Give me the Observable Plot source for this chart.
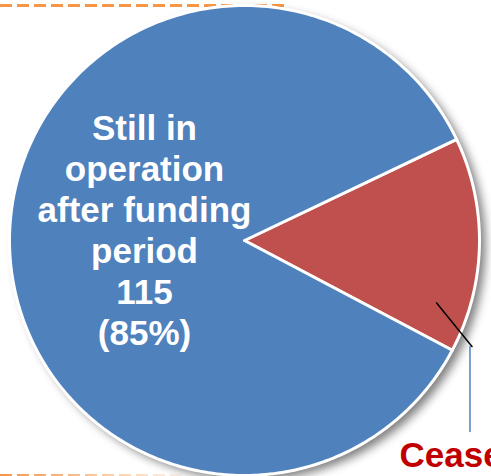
<!DOCTYPE html>
<html>
<head>
<meta charset="utf-8">
<script src="https://cdn.jsdelivr.net/npm/d3@7"></script>
<script src="https://cdn.jsdelivr.net/npm/@observablehq/plot@0.6"></script>
<style>
  html, body { margin: 0; padding: 0; background: #fff; overflow: hidden; }
  #chart svg { display: block; }
</style>
</head>
<body>
<div id="chart"></div>
<script>
// ---- data ----
const categories = ["Ceased", "Still in operation after funding period"];
const counts = [20, 115];
const percents = [15, 85];
const sliceColors = ["#C0504D", "#4F81BD"];
const labelLines = [
  ["Ceased"],
  ["Still in", "operation", "after funding", "period", "115", "(85%)"]
];

// ---- layout ----
const W = 491, H = 476;
const cx = 244, cy = 240, R = 235;
const startDeg = 64.5;
const rad = d => d * Math.PI / 180;

const pie = d3.pie().sort(null).value(d => d.count)
  .startAngle(rad(startDeg)).endAngle(rad(startDeg) + 2 * Math.PI);
const rows = categories.map((c, i) => ({name: c, count: counts[i], pct: percents[i], color: sliceColors[i]}));
const arcs = pie(rows);

const polar = (a, r) => [cx + r * Math.sin(a), cy - r * Math.cos(a)];

function slicePoints(a) {
  const pts = [];
  const n = Math.max(8, Math.ceil((a.endAngle - a.startAngle) / rad(1)));
  pts.push({x: cx, y: cy});
  for (let k = 0; k <= n; k++) {
    const t = a.startAngle + (a.endAngle - a.startAngle) * k / n;
    const [x, y] = polar(t, R);
    pts.push({x, y});
  }
  pts.push({x: cx, y: cy});
  return pts;
}

// leader for the Ceased slice
const leadA = polar(rad(108), 202);
const leadB = polar(rad(115), 251);
const leader1 = [{x: leadA[0], y: leadA[1]}, {x: leadB[0], y: leadB[1]}];
const leader2 = [{x: leadB[0] - 2, y: leadB[1]}, {x: leadB[0] - 2, y: leadB[1] + 85}];

const bigLabel = [{x: 144, y: 229, text: labelLines[1].join("\n")}];
const smallLabel = [{x: 399, y: 466, text: labelLines[0].join("\n")}];
const shadowPos = [{x: cx + 6, y: cy + 5}];

const chart = Plot.plot({
  width: W,
  height: H,
  margin: 0,
  x: {domain: [0, W], range: [0, W], axis: null},
  y: {domain: [0, H], range: [0, H], axis: null},
  r: {type: "identity"},
  style: {background: "#fff"},
  marks: [
    Plot.ruleY([5], {x1: 0, x2: 287, stroke: "#F79646", strokeWidth: 3, strokeDasharray: "12 5"}),
    Plot.ruleY([475], {x1: 0, x2: 185, stroke: "url(#fadeOrange)", strokeWidth: 3, strokeDasharray: "12 5"}),
    Plot.dot(shadowPos, {x: "x", y: "y", r: R, fill: "#000", fillOpacity: 0.5, stroke: "none"}),
    ...arcs.map(a => Plot.line(slicePoints(a), {x: "x", y: "y", fill: a.data.color, stroke: "white", strokeWidth: 3, strokeLinejoin: "round"})),
    Plot.line(leader1, {x: "x", y: "y", stroke: "black", strokeWidth: 1.5}),
    Plot.line(leader2, {x: "x", y: "y", stroke: "#4F81BD", strokeWidth: 1.5}),
    Plot.text(bigLabel, {x: "x", y: "y", text: "text", fill: "white", fontSize: 35, fontWeight: "bold",
      fontFamily: "Liberation Sans, Arial, sans-serif", lineHeight: 1.17, textAnchor: "middle", lineAnchor: "middle"}),
    Plot.text(smallLabel, {x: "x", y: "y", text: "text", fill: "#C00000", fontSize: 35, fontWeight: "bold",
      fontFamily: "Liberation Sans, Arial, sans-serif", textAnchor: "start", lineAnchor: "bottom"})
  ]
});

const svg = d3.select(chart);
const defs = svg.insert("defs", ":first-child");
const g = defs.append("linearGradient").attr("id", "fadeOrange")
  .attr("gradientUnits", "userSpaceOnUse").attr("x1", 0).attr("x2", 185).attr("y1", 0).attr("y2", 0);
g.append("stop").attr("offset", "0%").attr("stop-color", "#F79646").attr("stop-opacity", 1);
g.append("stop").attr("offset", "100%").attr("stop-color", "#F79646").attr("stop-opacity", 0.1);
const f = defs.append("filter").attr("id", "blurShadow")
  .attr("x", "-20%").attr("y", "-20%").attr("width", "140%").attr("height", "140%");
f.append("feGaussianBlur").attr("stdDeviation", 5);
svg.select('g[aria-label="dot"]').attr("filter", "url(#blurShadow)");

document.getElementById("chart").appendChild(chart);
</script>
</body>
</html>
